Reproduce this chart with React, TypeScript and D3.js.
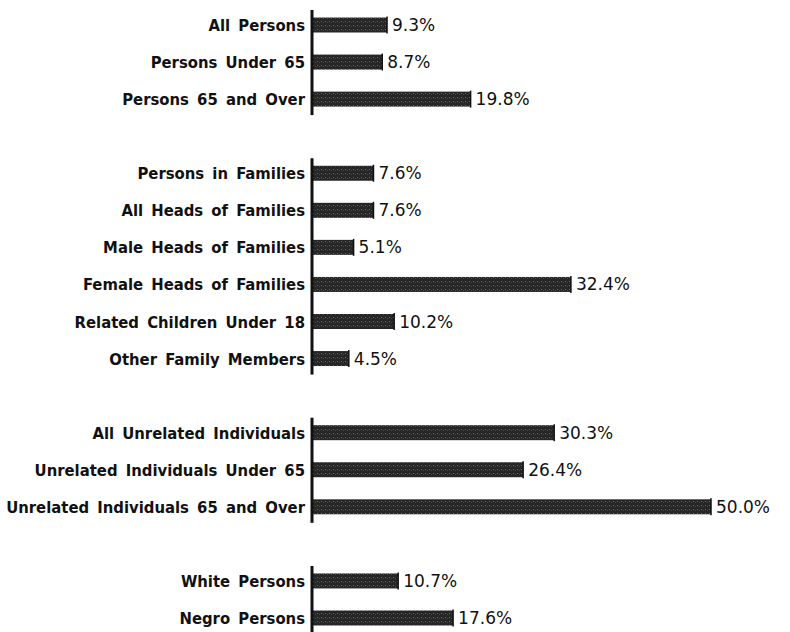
import { useMemo } from "react";
import * as d3 from "d3";

const WIDTH = 790;
const HEIGHT = 632;
const AXIS_X = 313;

// empty string = spacer slot between groups
const categories = [
  "All Persons",
  "Persons Under 65",
  "Persons 65 and Over",
  "",
  "Persons in Families",
  "All Heads of Families",
  "Male Heads of Families",
  "Female Heads of Families",
  "Related Children Under 18",
  "Other Family Members",
  "",
  "All Unrelated Individuals",
  "Unrelated Individuals Under 65",
  "Unrelated Individuals 65 and Over",
  "",
  "White Persons",
  "Negro Persons",
];
const values = [9.3, 8.7, 19.8, NaN, 7.6, 7.6, 5.1, 32.4, 10.2, 4.5, NaN, 30.3, 26.4, 50.0, NaN, 10.7, 17.6];
const valueLabels = ["9.3%", "8.7%", "19.8%", "", "7.6%", "7.6%", "5.1%", "32.4%", "10.2%", "4.5%", "", "30.3%", "26.4%", "50.0%", "", "10.7%", "17.6%"];
const groups = [
  [0, 2],
  [4, 9],
  [11, 13],
  [15, 16],
];

const BAR_H = 15;

export default function App() {
  const xScale = useMemo(() => d3.scaleLinear().domain([0, 50]).range([AXIS_X, 711]), []);
  const yScale = useMemo(
    () => d3.scaleLinear().domain([0, categories.length - 1]).range([25, 618]),
    []
  );

  const bars = categories.map((name, i) => {
    if (!name) return null;
    const y = yScale(i);
    const x1 = xScale(values[i]);
    return (
      <g key={i}>
        <text
          x={AXIS_X - 8}
          y={y + 6}
          textAnchor="end"
          fontFamily="'DejaVu Sans Condensed', 'DejaVu Sans', sans-serif"
          fontWeight="bold"
          fontSize={16.5}
          wordSpacing={3}
          fill="#111"
        >
          {name}
        </text>
        <rect x={AXIS_X} y={y - BAR_H / 2} width={x1 - AXIS_X} height={BAR_H} fill="url(#stipple)" />
        <line x1={x1} x2={x1} y1={y - BAR_H / 2 - 1} y2={y + BAR_H / 2 + 1} stroke="#111" strokeWidth={1.5} />
        <text
          x={x1 + 5}
          y={y + 6}
          fontFamily="'DejaVu Sans', sans-serif"
          fontSize={17}
          fill="#111"
        >
          {valueLabels[i]}
        </text>
      </g>
    );
  });

  const axes = groups.map(([a, b], i) => (
    <line
      key={i}
      x1={AXIS_X - 1}
      x2={AXIS_X - 1}
      y1={yScale(a) - 15}
      y2={i === groups.length - 1 ? HEIGHT : yScale(b) + 16}
      stroke="#111"
      strokeWidth={3}
    />
  ));

  return (
    <div style={{ position: "absolute", left: 0, top: 0 }}>
      <svg width={WIDTH} height={HEIGHT} style={{ display: "block", background: "#fff" }}>
        <defs>
          <pattern id="stipple" width={4} height={4} patternUnits="userSpaceOnUse">
            <rect width={4} height={4} fill="#262626" />
            <rect x={1} y={1} width={1} height={1} fill="#6a6a6a" />
            <rect x={3} y={2} width={1} height={1} fill="#4a4a4a" />
          </pattern>
        </defs>
        {bars}
        {axes}
      </svg>
    </div>
  );
}
